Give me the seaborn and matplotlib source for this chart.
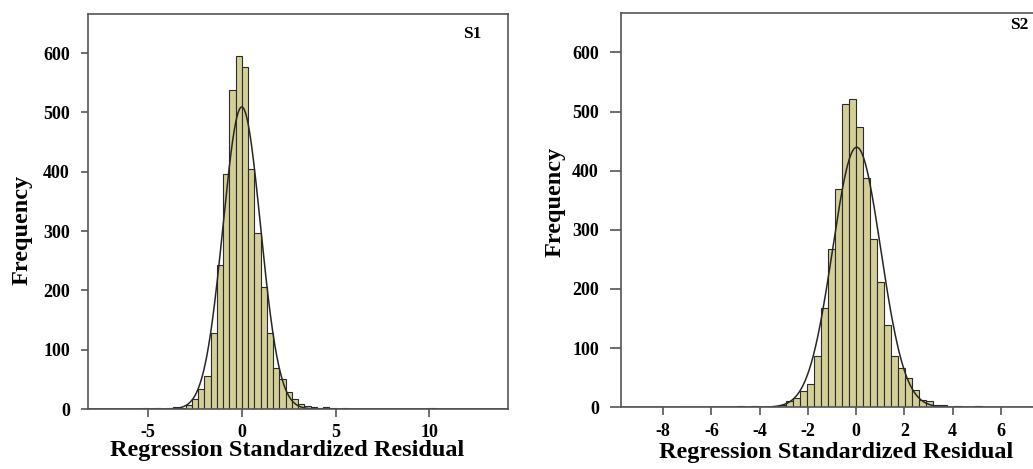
import numpy as np
import pandas as pd
import matplotlib
matplotlib.use("Agg")
import matplotlib.pyplot as plt
import seaborn as sns

# ---------------- data ----------------
# S1: bin width 1/3, first bin starts at index -16 (i.e. -16/3)
s1_bin_width = 1.0 / 3.0
s1_first_bin = -16
s1_counts = [1, 0, 1, 0, 1, 4, 1, 7, 17, 34, 56, 129, 243, 396, 538, 595,
             576, 404, 296, 205, 129, 69, 51, 29, 17, 9, 5, 3, 2, 4, 1, 0,
             1, 0, 0, 0, 0, 0, 0, 0, 0, 0, 0, 0, 0, 0, 1]
s1_mean, s1_sd, s1_n = 0.0, 1.0, 3830

# S2: bin width 0.29, first bin starts at index -22
s2_bin_width = 0.29
s2_first_bin = -22
s2_counts = [1, 0, 0, 0, 0, 2, 0, 2, 1, 1, 2, 4, 10, 15, 28, 40, 87, 167, 267,
             369, 513, 522, 474, 387, 285, 212, 139, 87, 66, 50, 29, 12, 11, 4,
             4, 1, 2, 1, 1, 2, 1]
s2_mean, s2_sd, s2_n = 0.02, 1.0, 3800

y_ticks = [0, 100, 200, 300, 400, 500, 600]
s1_x_ticks = [-5, 0, 5, 10]
s2_x_ticks = [-8, -6, -4, -2, 0, 2, 4, 6]
panel_labels = ["S1", "S2"]
x_label = "Regression Standardized Residual"
y_label = "Frequency"

# ---------------- style ----------------
sns.set_theme(style="white")
plt.rcParams["font.family"] = ["Liberation Serif", "DejaVu Serif"]
plt.rcParams["font.weight"] = "bold"
plt.rcParams["axes.unicode_minus"] = False
plt.rcParams["text.color"] = "black"
plt.rcParams["axes.labelcolor"] = "black"

bar_color = "#d4ce97"
edge_color = "#2b2b2b"
spine_color = "#555555"

fig = plt.figure(figsize=(10.33, 4.69), dpi=100)
ax1 = fig.add_axes([0.0852, 0.1279, 0.4066, 0.8422])
ax2 = fig.add_axes([0.6012, 0.1316, 0.3990, 0.8400])


def draw(ax, counts, first_bin, bw, mean, sd, n, xlim, xticks, label, label_xy,
         xlab_xy, ylab_xy, ytick_len):
    idx = np.arange(first_bin, first_bin + len(counts))
    centers = (idx + 0.5) * bw
    lo = first_bin * bw
    hi = (first_bin + len(counts)) * bw
    df = pd.DataFrame({"residual": centers, "count": np.asarray(counts, float)})
    sns.histplot(data=df, x="residual", weights="count", binwidth=bw,
                 binrange=(lo, hi), ax=ax, color=bar_color, alpha=1.0,
                 edgecolor=edge_color, linewidth=0.8)
    xs = np.linspace(xlim[0], xlim[1], 800)
    ys = n * bw / (sd * np.sqrt(2 * np.pi)) * np.exp(-0.5 * ((xs - mean) / sd) ** 2)
    sns.lineplot(x=xs, y=ys, ax=ax, color="#262626", linewidth=1.1)
    ax.set_xlim(*xlim)
    ax.set_ylim(0, 666)
    ax.set_xticks(xticks)
    ax.set_yticks(y_ticks)
    ax.set_xlabel(x_label, fontsize=17.5, fontweight="bold", va="center", color="black")
    ax.set_ylabel(y_label, fontsize=17.5, fontweight="bold", va="center", color="black")
    ax.xaxis.set_label_coords(*xlab_xy)
    ax.yaxis.set_label_coords(*ylab_xy)
    ax.tick_params(axis="x", direction="out", length=6, width=1.2, pad=5,
                   colors=spine_color, labelcolor="black", labelsize=13, bottom=True)
    ax.tick_params(axis="y", direction="out", length=ytick_len, width=1.2, pad=8,
                   colors=spine_color, labelcolor="black", labelsize=13, left=True)
    for lab in ax.get_xticklabels() + ax.get_yticklabels():
        lab.set_fontweight("bold")
    for sp in ax.spines.values():
        sp.set_color(spine_color)
        sp.set_linewidth(1.2)
    ax.text(label_xy[0], label_xy[1], label, transform=ax.transAxes,
            fontsize=12.5, fontweight="bold", ha="right", va="center", color="black")


draw(ax1, s1_counts, s1_first_bin, s1_bin_width, s1_mean, s1_sd, s1_n,
     (-8.2, 14.2), s1_x_ticks, panel_labels[0], (0.937, 0.95),
     (0.475, -0.104), (-0.157, 0.453), 5)
draw(ax2, s2_counts, s2_first_bin, s2_bin_width, s2_mean, s2_sd, s2_n,
     (-9.75, 7.34), s2_x_ticks, panel_labels[1], (0.988, 0.97),
     (0.522, -0.116), (-0.160, 0.521), 8)
ax2.spines["right"].set_visible(False)

fig.savefig("out.png", dpi=100)
